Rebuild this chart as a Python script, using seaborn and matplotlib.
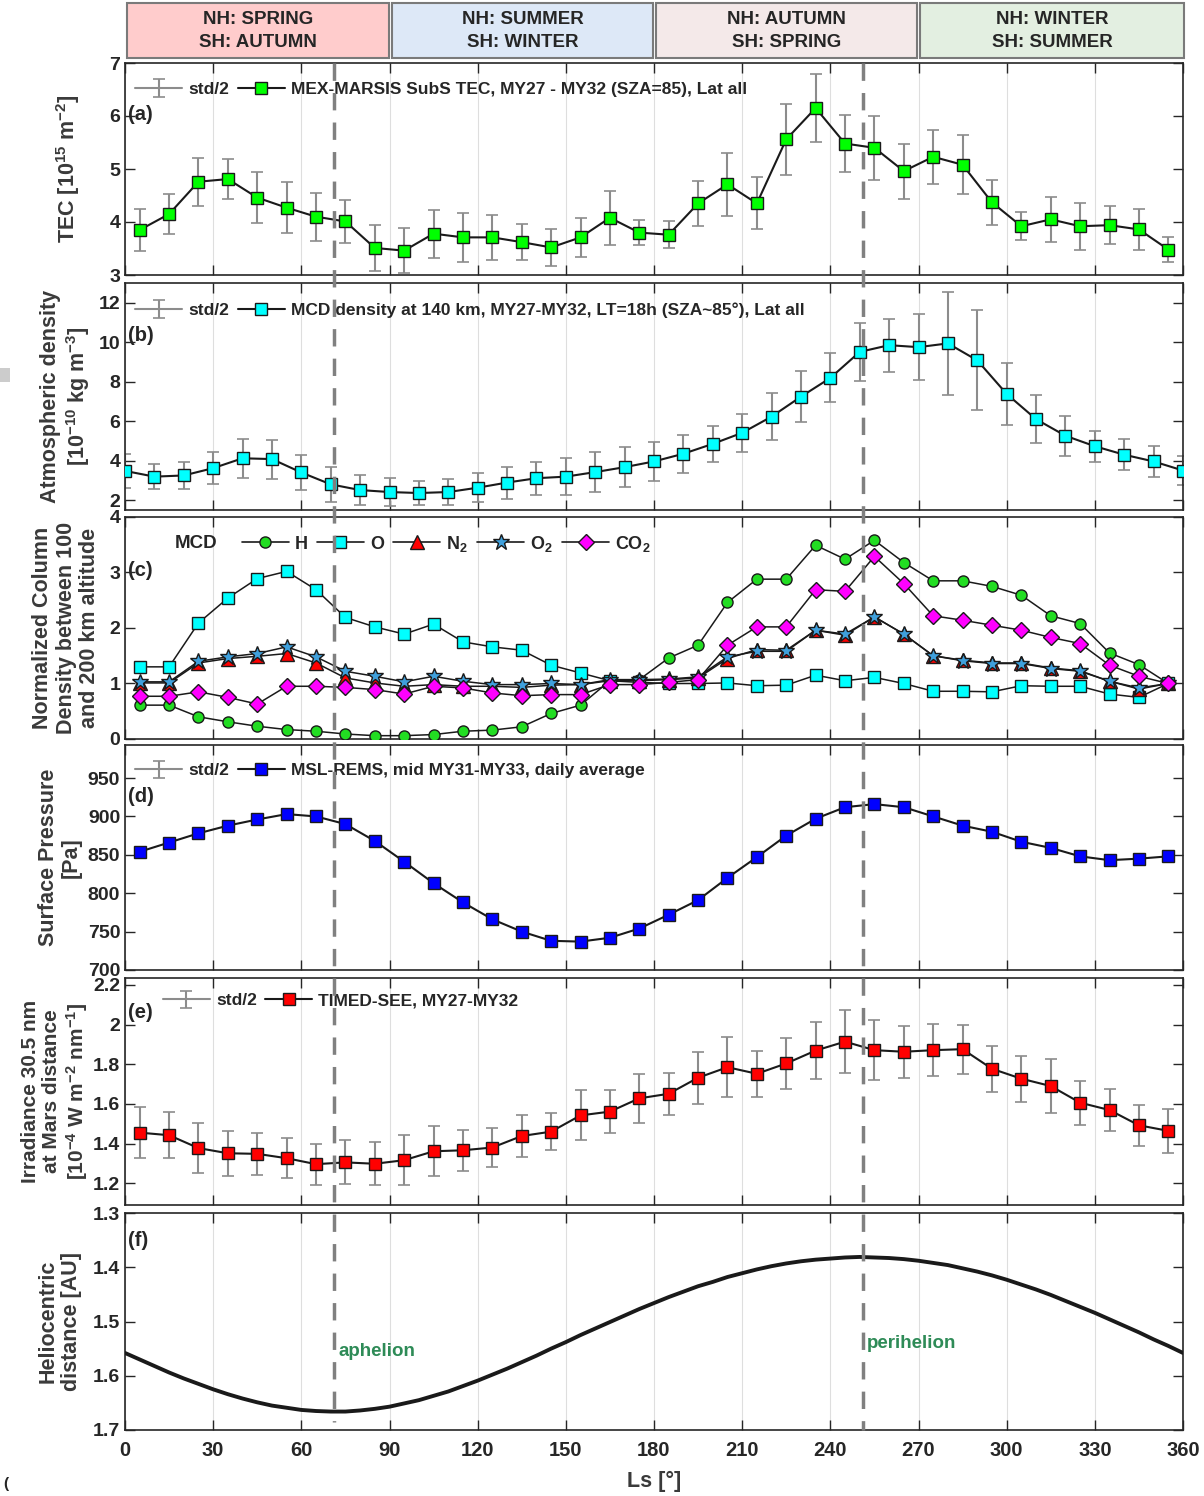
import numpy as np
import pandas as pd
import matplotlib
matplotlib.use("Agg")
import matplotlib.pyplot as plt
import seaborn as sns
from matplotlib.lines import Line2D
from matplotlib.patches import Rectangle
import matplotlib.transforms as mtransforms

# ---------------- data ----------------
ls_mid = list(range(5, 360, 10))      # 5 ... 355
ls_full = list(range(0, 361, 10))     # 0 ... 360
ls_orbit = list(range(0, 361, 5))     # 0 ... 360

tec = [3.85, 4.15, 4.76, 4.81, 4.46, 4.27, 4.10, 4.01, 3.51, 3.46, 3.78, 3.71,
       3.71, 3.62, 3.52, 3.71, 4.08, 3.80, 3.76, 4.35, 4.71, 4.35, 5.56, 6.15,
       5.48, 5.40, 4.96, 5.23, 5.08, 4.37, 3.92, 4.05, 3.92, 3.94, 3.86, 3.48]
tec_err = [.40, .38, .45, .38, .48, .48, .45, .40, .43, .43, .45, .46,
           .42, .34, .35, .37, .51, .24, .25, .43, .60, .49, .67, .64,
           .53, .60, .52, .51, .56, .42, .26, .43, .44, .36, .38, .24]

dens = [3.48, 3.19, 3.25, 3.62, 4.12, 4.08, 3.40, 2.80, 2.51, 2.41, 2.36, 2.41,
        2.63, 2.89, 3.11, 3.19, 3.42, 3.67, 3.96, 4.35, 4.85, 5.41, 6.23, 7.24,
        8.19, 9.51, 9.85, 9.75, 9.94, 9.08, 7.38, 6.10, 5.26, 4.73, 4.30, 3.96, 3.50]
dens_err = [.85, .65, .70, .81, 1.0, .99, .91, .87, .77, .73, .61, .67,
            .73, .81, .84, .94, 1.0, 1.0, 1.0, .96, .92, .96, 1.18, 1.3,
            1.24, 1.46, 1.35, 1.68, 2.59, 2.53, 1.58, 1.22, 1.0, .78, .79, .77, .73]

col_h = [0.61, 0.61, 0.40, 0.31, 0.23, 0.17, 0.14, 0.09, 0.06, 0.06, 0.08, 0.14,
         0.16, 0.22, 0.46, 0.61, 1.05, 1.07, 1.46, 1.69, 2.46, 2.88, 2.88, 3.49,
         3.24, 3.58, 3.18, 2.85, 2.85, 2.75, 2.59, 2.22, 2.08, 1.55, 1.34, 1.00]
col_o = [1.30, 1.30, 2.09, 2.54, 2.89, 3.02, 2.69, 2.19, 2.02, 1.89, 2.07, 1.75,
         1.66, 1.60, 1.33, 1.19, 1.05, 1.02, 1.00, 1.00, 1.01, 0.96, 0.97, 1.15,
         1.05, 1.11, 1.00, 0.86, 0.86, 0.85, 0.96, 0.95, 0.95, 0.81, 0.75, 1.00]
col_n2 = [1.01, 1.01, 1.37, 1.45, 1.49, 1.54, 1.37, 1.10, 1.01, 0.95, 0.98, 0.95,
          0.95, 0.93, 0.97, 0.98, 1.05, 1.05, 1.07, 1.10, 1.45, 1.61, 1.60, 1.96,
          1.87, 2.20, 1.89, 1.50, 1.42, 1.37, 1.37, 1.28, 1.23, 1.04, 0.90, 1.00]
col_o2 = [1.03, 1.03, 1.40, 1.48, 1.54, 1.66, 1.48, 1.22, 1.13, 1.03, 1.13, 1.04,
          0.98, 0.98, 1.00, 0.98, 1.07, 1.07, 1.08, 1.12, 1.48, 1.58, 1.58, 1.96,
          1.89, 2.20, 1.89, 1.50, 1.41, 1.36, 1.36, 1.27, 1.22, 1.04, 0.92, 1.00]
col_co2 = [0.77, 0.77, 0.85, 0.75, 0.63, 0.95, 0.95, 0.93, 0.89, 0.81, 0.95, 0.92,
           0.83, 0.78, 0.80, 0.80, 0.98, 0.98, 1.02, 1.07, 1.69, 2.02, 2.02, 2.69,
           2.66, 3.29, 2.80, 2.22, 2.14, 2.05, 1.96, 1.83, 1.72, 1.33, 1.13, 1.00]

pressure = [854, 866, 878, 888, 896, 903, 900, 890, 868, 841, 813, 788,
            766, 750, 738, 737, 742, 754, 772, 791, 820, 847, 875, 897,
            912, 916, 912, 900, 888, 880, 867, 859, 848, 843, 845, 848]

irr = [1.455, 1.442, 1.377, 1.351, 1.348, 1.326, 1.296, 1.305, 1.298, 1.316, 1.361, 1.366,
       1.380, 1.438, 1.460, 1.542, 1.561, 1.628, 1.651, 1.732, 1.785, 1.752, 1.804, 1.869,
       1.914, 1.871, 1.863, 1.871, 1.876, 1.777, 1.727, 1.690, 1.606, 1.569, 1.492, 1.464]
irr_err = [.127, .117, .126, .113, .107, .102, .104, .111, .109, .125, .125, .103,
           .099, .105, .095, .126, .110, .124, .106, .131, .152, .116, .130, .142,
           .159, .151, .131, .130, .124, .117, .117, .135, .110, .107, .102, .110]

helio = [1.558, 1.570, 1.582, 1.594, 1.605, 1.615, 1.625, 1.634, 1.642, 1.649,
         1.655, 1.659, 1.663, 1.665, 1.666, 1.666, 1.664, 1.661, 1.657, 1.651,
         1.645, 1.637, 1.629, 1.619, 1.609, 1.598, 1.587, 1.575, 1.563, 1.550,
         1.538, 1.525, 1.513, 1.501, 1.489, 1.477, 1.466, 1.455, 1.445, 1.435,
         1.427, 1.418, 1.411, 1.404, 1.398, 1.393, 1.389, 1.386, 1.384, 1.382,
         1.381, 1.382, 1.383, 1.385, 1.388, 1.392, 1.396, 1.402, 1.408, 1.415,
         1.423, 1.432, 1.441, 1.451, 1.462, 1.473, 1.484, 1.496, 1.508, 1.520,
         1.533, 1.545, 1.558]

season_labels = ["NH: SPRING\nSH: AUTUMN", "NH: SUMMER\nSH: WINTER",
                 "NH: AUTUMN\nSH: SPRING", "NH: WINTER\nSH: SUMMER"]
orbit_ls = [71, 251]
orbit_names = ["aphelion", "perihelion"]

# ---------------- style ----------------
sns.set_theme(style="ticks")
plt.rcParams['font.family'] = ['Liberation Sans', 'DejaVu Sans']
plt.rcParams['font.weight'] = 'bold'
plt.rcParams['mathtext.fontset'] = 'custom'
plt.rcParams['mathtext.rm'] = 'Liberation Sans:bold'
plt.rcParams['mathtext.bf'] = 'Liberation Sans:bold'
plt.rcParams['mathtext.default'] = 'bf'

W, H = 1204, 1496
fig = plt.figure(figsize=(W / 100, H / 100), dpi=100)

L, R = 125, 1183
panels_px = [(63, 275), (283, 510), (517, 739), (745, 970), (978, 1205), (1213, 1430)]
axes = []
for top, bot in panels_px:
    ax = fig.add_axes([L / W, 1 - bot / H, (R - L) / W, (bot - top) / H])
    axes.append(ax)

TXT = '#262626'
YLC = '#3a3a3a'
ERRC = '#8c8c8c'


def style(ax, ylim, yticks, ylab, ylab_x, xlabels=False, ylab_size=15.5):
    ax.set_xlim(0, 360)
    ax.set_xticks(range(0, 361, 30))
    ax.set_ylim(*ylim)
    ax.set_yticks(yticks)
    ax.grid(axis='x', color='#dedede', lw=0.8)
    ax.grid(axis='y', visible=False)
    ax.set_axisbelow(True)
    ax.tick_params(direction='in', top=True, right=True, length=7, width=1.0,
                   colors=TXT, labelbottom=xlabels)
    ax.tick_params(axis='y', labelsize=14)
    ax.tick_params(axis='x', labelsize=14.5)
    for lbl in ax.get_yticklabels() + ax.get_xticklabels():
        lbl.set_fontweight('bold')
    for s in ax.spines.values():
        s.set_color(TXT)
        s.set_linewidth(1.2)
    ax.set_xlabel('')
    ax.set_ylabel(ylab, fontsize=ylab_size, fontweight='bold', color=YLC, linespacing=1.15)
    ax.yaxis.set_label_coords((ylab_x - L) / (R - L), 0.5)


def errproxy(ax):
    return ax.errorbar([np.nan], [np.nan], yerr=[1.0], fmt='-', color=ERRC, ecolor=ERRC,
                       lw=1.5, elinewidth=1.5, capsize=4, capthick=1.2)


def mainline(ax, x, y, fc, marker='s', ms=9):
    sns.lineplot(x=x, y=y, ax=ax, color='k', lw=1.5, marker=marker, markersize=ms,
                 markerfacecolor=fc, markeredgecolor='k', markeredgewidth=1.0,
                 legend=False, zorder=3)


def legend2(ax, fc, label, ypos, xpos=0.0):
    h_err = errproxy(ax)
    h_line = Line2D([], [], color='k', lw=1.5, marker='s', ms=9, mfc=fc, mec='k')
    ax.legend([h_err, h_line], ['std/2', label], loc='center left',
              bbox_to_anchor=(xpos, ypos), ncol=2, frameon=False,
              handlelength=2.7, handletextpad=0.35, columnspacing=0.5,
              borderaxespad=0.2, prop={'weight': 'bold', 'size': 12.5})


def plabel(ax, s, y):
    ax.text(0.003, y, s, transform=ax.transAxes, fontsize=14.5, fontweight='bold',
            color=TXT, va='center', ha='left')


# (a) TEC
ax = axes[0]
ax.errorbar(ls_mid, tec, yerr=tec_err, fmt='none', ecolor=ERRC, elinewidth=1.5,
            capsize=4, capthick=1.2, zorder=2)
mainline(ax, ls_mid, tec, '#00ff00')
style(ax, (3, 7), [3, 4, 5, 6, 7], 'TEC [10$^{15}$ m$^{-2}$]', 82)
legend2(ax, '#00ff00', 'MEX-MARSIS SubS TEC, MY27 - MY32 (SZA=85), Lat all', 0.875)
plabel(ax, '(a)', 0.755)

# (b) density
ax = axes[1]
ax.errorbar(ls_full, dens, yerr=dens_err, fmt='none', ecolor=ERRC, elinewidth=1.5,
            capsize=4, capthick=1.2, zorder=2)
mainline(ax, ls_full, dens, '#00ffff')
style(ax, (1.5, 13), [2, 4, 6, 8, 10, 12],
      'Atmospheric density\n[10$^{-10}$ kg m$^{-3}$]', 92)
legend2(ax, '#00ffff', 'MCD density at 140 km, MY27-MY32, LT=18h (SZA~85°), Lat all', 0.88)
plabel(ax, '(b)', 0.77)

# (c) normalized column densities
ax = axes[2]
species = [
    ('H', col_h, 'o', '#22dd22', 8),
    ('O', col_o, 's', '#00ffff', 8),
    ('N$_2$', col_n2, '^', '#ff0000', 10),
    ('O$_2$', col_o2, '*', '#3fa0dc', 12),
    ('CO$_2$', col_co2, 'D', '#ff00ff', 8),
]
handles = []
for name, vals, mk, fc, ms in species:
    sns.lineplot(x=ls_mid, y=vals, ax=ax, color='#1a1a1a', lw=1.1, marker=mk,
                 markersize=ms, markerfacecolor=fc, markeredgecolor='k',
                 markeredgewidth=1.0, legend=False, zorder=3)
    handles.append(Line2D([], [], color='k', lw=1.2, marker=mk, ms=ms, mfc=fc, mec='k'))
style(ax, (0, 4), [0, 1, 2, 3, 4],
      'Normalized Column\nDensity between 100\nand 200 km altitude', 100)
ax.legend(handles, [s[0] for s in species], loc='center left',
          bbox_to_anchor=(0.100, 0.88), ncol=5, frameon=False,
          handlelength=2.6, handletextpad=0.35, columnspacing=0.5, borderaxespad=0.2,
          prop={'weight': 'bold', 'size': 13})
ax.text(0.047, 0.88, 'MCD', transform=ax.transAxes, fontsize=13.5, fontweight='bold',
        color=TXT, va='center', ha='left')
plabel(ax, '(c)', 0.76)

# (d) surface pressure
ax = axes[3]
mainline(ax, ls_mid, pressure, '#0000ff')
style(ax, (700, 993), [700, 750, 800, 850, 900, 950], 'Surface Pressure\n[Pa]', 82)
legend2(ax, '#0000ff', 'MSL-REMS, mid MY31-MY33, daily average', 0.885)
plabel(ax, '(d)', 0.77)

# (e) irradiance
ax = axes[4]
ax.errorbar(ls_mid, irr, yerr=irr_err, fmt='none', ecolor=ERRC, elinewidth=1.5,
            capsize=4, capthick=1.2, zorder=2)
mainline(ax, ls_mid, irr, '#ff0000')
style(ax, (1.09, 2.235), [1.2, 1.4, 1.6, 1.8, 2.0, 2.2],
      'Irradiance 30.5 nm\nat Mars distance\n[10$^{-4}$ W m$^{-2}$ nm$^{-1}$]', 90,
      ylab_size=15)
ax.set_yticklabels(['1.2', '1.4', '1.6', '1.8', '2', '2.2'])
legend2(ax, '#ff0000', 'TIMED-SEE, MY27-MY32', 0.9, xpos=0.026)
plabel(ax, '(e)', 0.85)

# (f) heliocentric distance
ax = axes[5]
sns.lineplot(x=ls_orbit, y=helio, ax=ax, color='k', lw=2.8, legend=False, zorder=3)
style(ax, (1.3, 1.7), [1.3, 1.4, 1.5, 1.6, 1.7], 'Heliocentric\ndistance [AU]', 82,
      xlabels=True)
ax.invert_yaxis()
ax.set_xlabel('Ls [°]', fontsize=15.5, fontweight='bold', color=YLC, labelpad=8)
ax.tick_params(axis='x', pad=8)
plabel(ax, '(f)', 0.875)
for xv, nm, yv in zip(orbit_ls, orbit_names, [1.555, 1.54]):
    ax.text(xv + 1.5, yv, nm, fontsize=13.5, fontweight='bold', color='#2e8b57',
            va='center', ha='left')

# dashed aphelion / perihelion lines across all panels
trans = mtransforms.blended_transform_factory(axes[0].transData, fig.transFigure)
for xv, ybot in zip(orbit_ls, [1422, 1430]):
    fig.add_artist(Line2D([xv, xv], [1 - 63 / H, 1 - ybot / H], transform=trans,
                          color='#808080', lw=2.5, ls=(0, (5, 3.5)), zorder=5))

# season boxes
box_px = [(127, 389), (392, 653), (656, 917), (920, 1184)]
box_cols = ['#ffcccc', '#dde8f7', '#f4e9e9', '#e3efe1']
for (x0, x1), c, lab in zip(box_px, box_cols, season_labels):
    fig.add_artist(Rectangle((x0 / W, 1 - 58 / H), (x1 - x0) / W, 55 / H,
                             transform=fig.transFigure, facecolor=c,
                             edgecolor='#7a7a7a', lw=1.5))
    fig.text((x0 + x1) / 2 / W, 1 - 31 / H, lab, ha='center', va='center',
             fontsize=13.5, fontweight='bold', color=TXT, linespacing=1.4)

# stray marks in the reference
fig.add_artist(Rectangle((0, 1 - 382 / H), 10 / W, 14 / H, transform=fig.transFigure,
                         facecolor='#cccccc', edgecolor='none'))
fig.text(3 / W, 1 - 1484 / H, '(', fontsize=11, color=TXT, va='center')

fig.savefig('out.png', dpi=100)
